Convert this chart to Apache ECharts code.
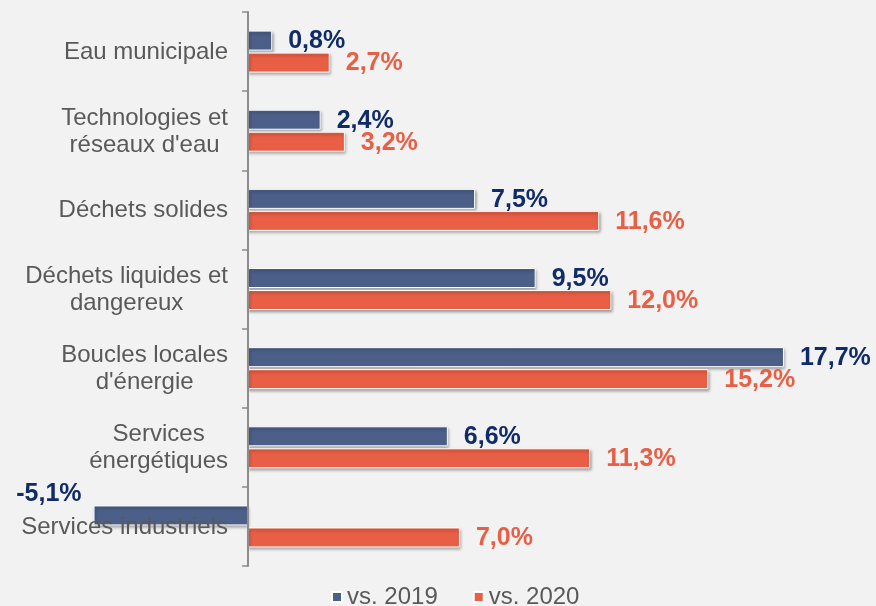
<!DOCTYPE html>
<html><head><meta charset="utf-8">
<script src="https://cdn.jsdelivr.net/npm/echarts@6/dist/echarts.min.js"></script>
<style>html,body{margin:0;padding:0;background:#f2f2f2;}#c{width:876px;height:606px;}</style>
</head><body><div id="c"></div>
<script>
const categories = ["Eau municipale", "Technologies et\nréseaux d'eau", "Déchets solides", "Déchets liquides et\ndangereux", "Boucles locales\nd'énergie", "Services\nénergétiques", "Services industriels"];
const vs2019 = [0.8, 2.4, 7.5, 9.5, 17.7, 6.6, -5.1];
const vs2020 = [2.7, 3.2, 11.6, 12.0, 15.2, 11.3, 7.0];
const seriesNames = ["vs. 2019", "vs. 2020"];

const fmt = v => v.toFixed(1).replace('.', ',') + '%';
const FONT = '"Liberation Sans", Arial, sans-serif';
const BLUE = '#4b5f88', RED = '#e85f45';
const shadow = {borderColor:'#ffffff', borderWidth:1, shadowBlur:3, shadowColor:'rgba(0,0,0,0.35)', shadowOffsetX:1, shadowOffsetY:2};

const chart = echarts.init(document.getElementById('c'));
chart.setOption({
  backgroundColor: '#f2f2f2',
  animation: false,
  grid: {left: 90.5, right: 22.4, top: 12, bottom: 40, containLabel:false, outerBoundsMode:'none'},
  xAxis: {type:'value', min:-5.2, max:20, show:false},
  yAxis: {
    type:'category', data: categories, inverse:true, z:3, offset:-157.5,
    axisLine:{show:true, onZero:false, lineStyle:{color:'#8c8c8c', width:2}},
    axisTick:{show:true, length:6, lineStyle:{color:'#8c8c8c', width:1.5}},
    axisLabel:{
      margin:20, align:'right', fontFamily:FONT, fontSize:24, color:'#595959',
      formatter: v => v.split('\n').map(s => '{c|' + s + '}').join('\n'),
      rich:{c:{align:'center', fontFamily:FONT, fontSize:24, color:'#595959', lineHeight:27, padding:[2,0,0,0]}}
    },
    splitLine:{show:false}
  },
  legend: {
    data: seriesNames, left: 331, top: 585, padding:0, icon:'rect', itemWidth:10, itemHeight:10, itemGap:35,
    textStyle:{fontFamily:FONT, fontSize:24, color:'#595959'}
  },
  series: [
    {
      name: seriesNames[0], type:'bar', data: vs2019.map(v => v < 0 ? {value:v, label:{position:'left', distance:12, offset:[0,-21]}} : v),
      barWidth:20, barGap:'10%',
      itemStyle: Object.assign({color:BLUE}, shadow),
      label:{show:true, position:'right', distance:16, offset:[0,1], formatter:p=>fmt(p.value), fontFamily:FONT, fontSize:25, fontWeight:'bold', color:'#0f2b68'}
    },
    {
      name: seriesNames[1], type:'bar', data: vs2020,
      barWidth:20,
      itemStyle: Object.assign({color:RED}, shadow),
      label:{show:true, position:'right', distance:16, offset:[0,1], formatter:p=>fmt(p.value), fontFamily:FONT, fontSize:25, fontWeight:'bold', color:RED}
    }
  ]
});
</script></body></html>
